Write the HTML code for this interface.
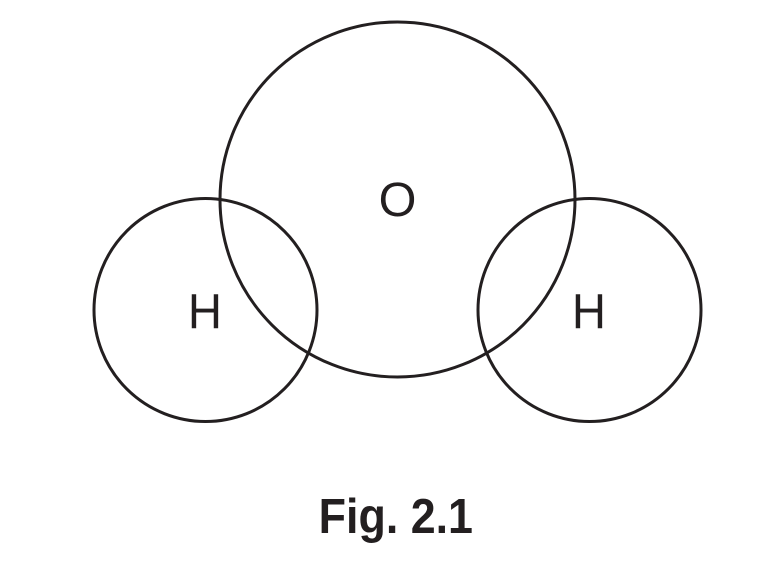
<!DOCTYPE html>
<html>
<head>
<meta charset="utf-8">
<style>
html,body{margin:0;padding:0;background:#fff;width:779px;height:569px;overflow:hidden}
svg{display:block}
text{font-family:"Liberation Sans",Arial,sans-serif;fill:#231f20}
</style>
</head>
<body>
<svg width="779" height="569" viewBox="0 0 779 569" xmlns="http://www.w3.org/2000/svg">
<rect width="779" height="569" fill="#fff"/>
<g fill="none" stroke="#231f20" stroke-width="3">
<circle cx="397.500" cy="199.500" r="177.500"/>
<circle cx="205.500" cy="310" r="111.500"/>
<circle cx="589.500" cy="310" r="111.500"/>
</g>
<text x="397.500" y="216.200" font-size="48.600" text-anchor="middle">O</text>
<text transform="translate(205 327.800) scale(0.965 1)" font-size="49" text-anchor="middle">H</text>
<text transform="translate(589 327.800) scale(0.965 1)" font-size="49" text-anchor="middle">H</text>
<text transform="translate(395.800 533) scale(0.905 1)" font-size="49.500" font-weight="bold" text-anchor="middle">Fig. 2.1</text>
</svg>
</body>
</html>
